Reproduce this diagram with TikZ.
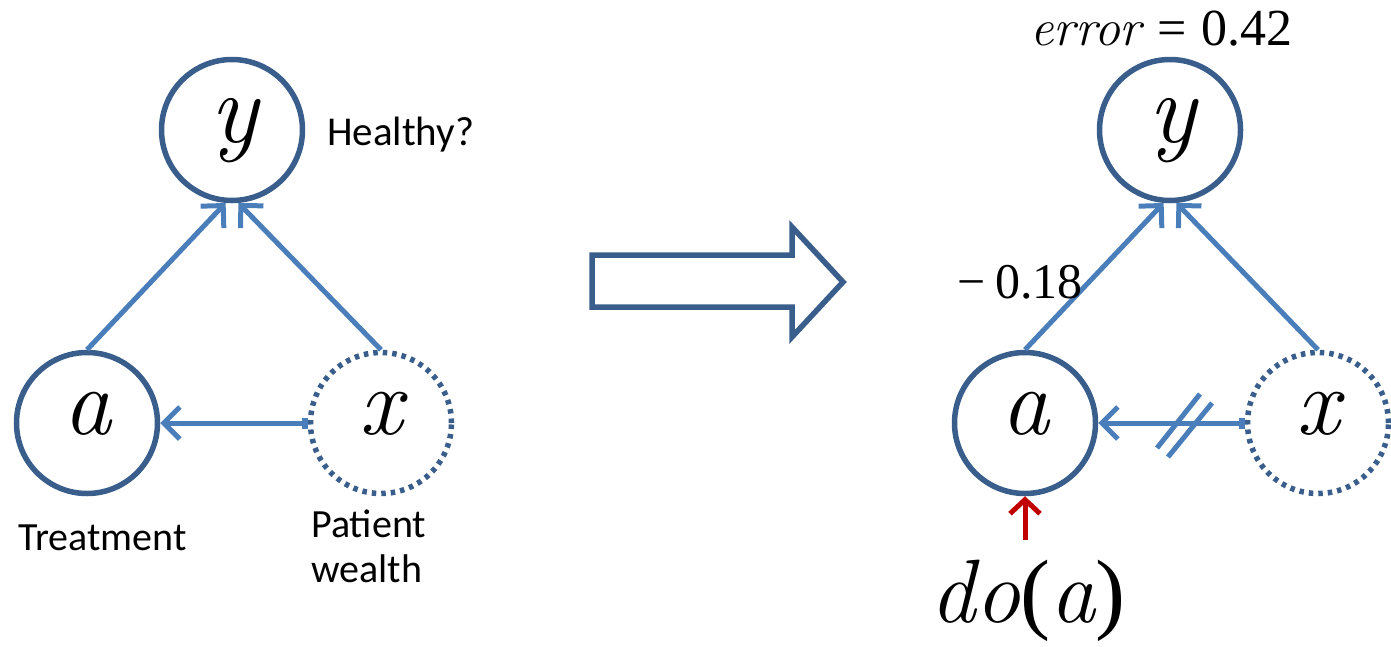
\documentclass[tikz,border=0pt]{standalone}
\usepackage{fontspec}
\setmainfont{Liberation Serif}
% upright Times-like figures and a classic italic for the variables
\newfontfamily\tmsfont{Liberation Serif}
\newfontfamily\varfont{Latin Modern Roman}
\newfontfamily\lblfont{Carlito}
\newcommand{\vv}[1]{{\varfont\itshape #1}}
\usetikzlibrary{arrows.meta}

\definecolor{rimcol}{HTML}{3A5E8C}
\definecolor{edgecol}{HTML}{4A7EBB}
\definecolor{docol}{HTML}{C00000}

\tikzset{
  var/.style={circle, draw=rimcol, line width=5.5pt, minimum size=141pt, inner sep=0pt},
  hidden/.style={var, dash pattern=on 4.5pt off 5pt},
  letter/.style={anchor=base, inner sep=0pt,
                 font=\varfont\fontsize{96}{96}\selectfont\itshape},
  barb/.tip={Straight Barb[length=16pt,width=32pt,line width=5pt]},
  link/.style={draw=edgecol, line width=5pt, -barb},
  sqlink/.style={link, {Square[length=6pt,width=11pt]}-barb},
  cutmark/.style={draw=edgecol, line width=5pt},
  lbl/.style={anchor=base west, inner sep=0pt, font=\lblfont\fontsize{40}{40}\selectfont},
  eqn/.style={anchor=base west, inner sep=0pt, font=\tmsfont},
  bigarrow/.style={draw=rimcol, line width=5.5pt, fill=white, line join=miter}
}

\begin{document}
\begin{tikzpicture}[x=1pt,y=-1pt]
\useasboundingbox (0,0) rectangle (1391,646);

% ---- observational model ----
\node[var]    (y1) at (232,130) {};
\node[var]    (a1) at (87,423)  {};
\node[hidden] (x1) at (381,423) {};
\node[letter] (ly1) at (234,142) {\fontsize{100}{100}\selectfont y};
\node[letter] (la1) at (87,434)  {a};
\node[letter] (lx1) at (381,434) {x};

\draw[link]   (a1.north) -- (y1.-95);
\draw[link]   (x1.north) -- (y1.-85);
\draw[sqlink] (x1.west)  -- (a1.east);

\node[lbl] (hl) at (327,145) {\fontsize{41}{41}\selectfont Healthy?};
\node[lbl] (tl) at (18,550) {Treatment};
\node[lbl] (pl) at (311,537) {Patient};
\node[lbl] (wl) at (311,582) {wealth};

% ---- transition arrow ----
\draw[bigarrow] (592,255) -- (792,255) -- (792,227) -- (843,282)
                -- (792,337) -- (792,307) -- (592,307) -- cycle;

% ---- intervened model ----
\node[var]    (y2) at (1170,130) {};
\node[var]    (a2) at (1025,423) {};
\node[hidden] (x2) at (1318,423) {};
\node[letter] (ly2) at (1172,142) {\fontsize{100}{100}\selectfont y};
\node[letter] (la2) at (1025,434) {a};
\node[letter] (lx2) at (1318,434) {x};

\draw[link]   (a2.north) -- (y2.-95);
\draw[link]   (x2.north) -- (y2.-85);
\draw[sqlink] (x2.west)  -- (a2.east);

% severed confounding edge
\coordinate (cut) at (1184,425);
\draw[cutmark] ([shift={(-27,23)}]cut) -- ([shift={(16,-31)}]cut);
\draw[cutmark] ([shift={(-16,32)}]cut) -- ([shift={(28,-22)}]cut);

\node[eqn] (err) at (1030,45)
  {\fontsize{52}{52}\selectfont\vv{error}\hspace{0.3em}=\hspace{0.3em}0.42};
\node[eqn] (w) at (957,298) {\fontsize{50}{50}\selectfont −\hspace{0.2em}0.18};

% intervention
\coordinate (dofoot) at (1025,540);
\draw[draw=docol, line width=5pt,
      -{Straight Barb[length=14pt,width=30pt,line width=5pt]}] (dofoot) -- (a2.south);
\node[eqn] (do) at (930,622) {\fontsize{90}{90}\selectfont\vv{do}(\vv{a})};
\end{tikzpicture}
\end{document}
